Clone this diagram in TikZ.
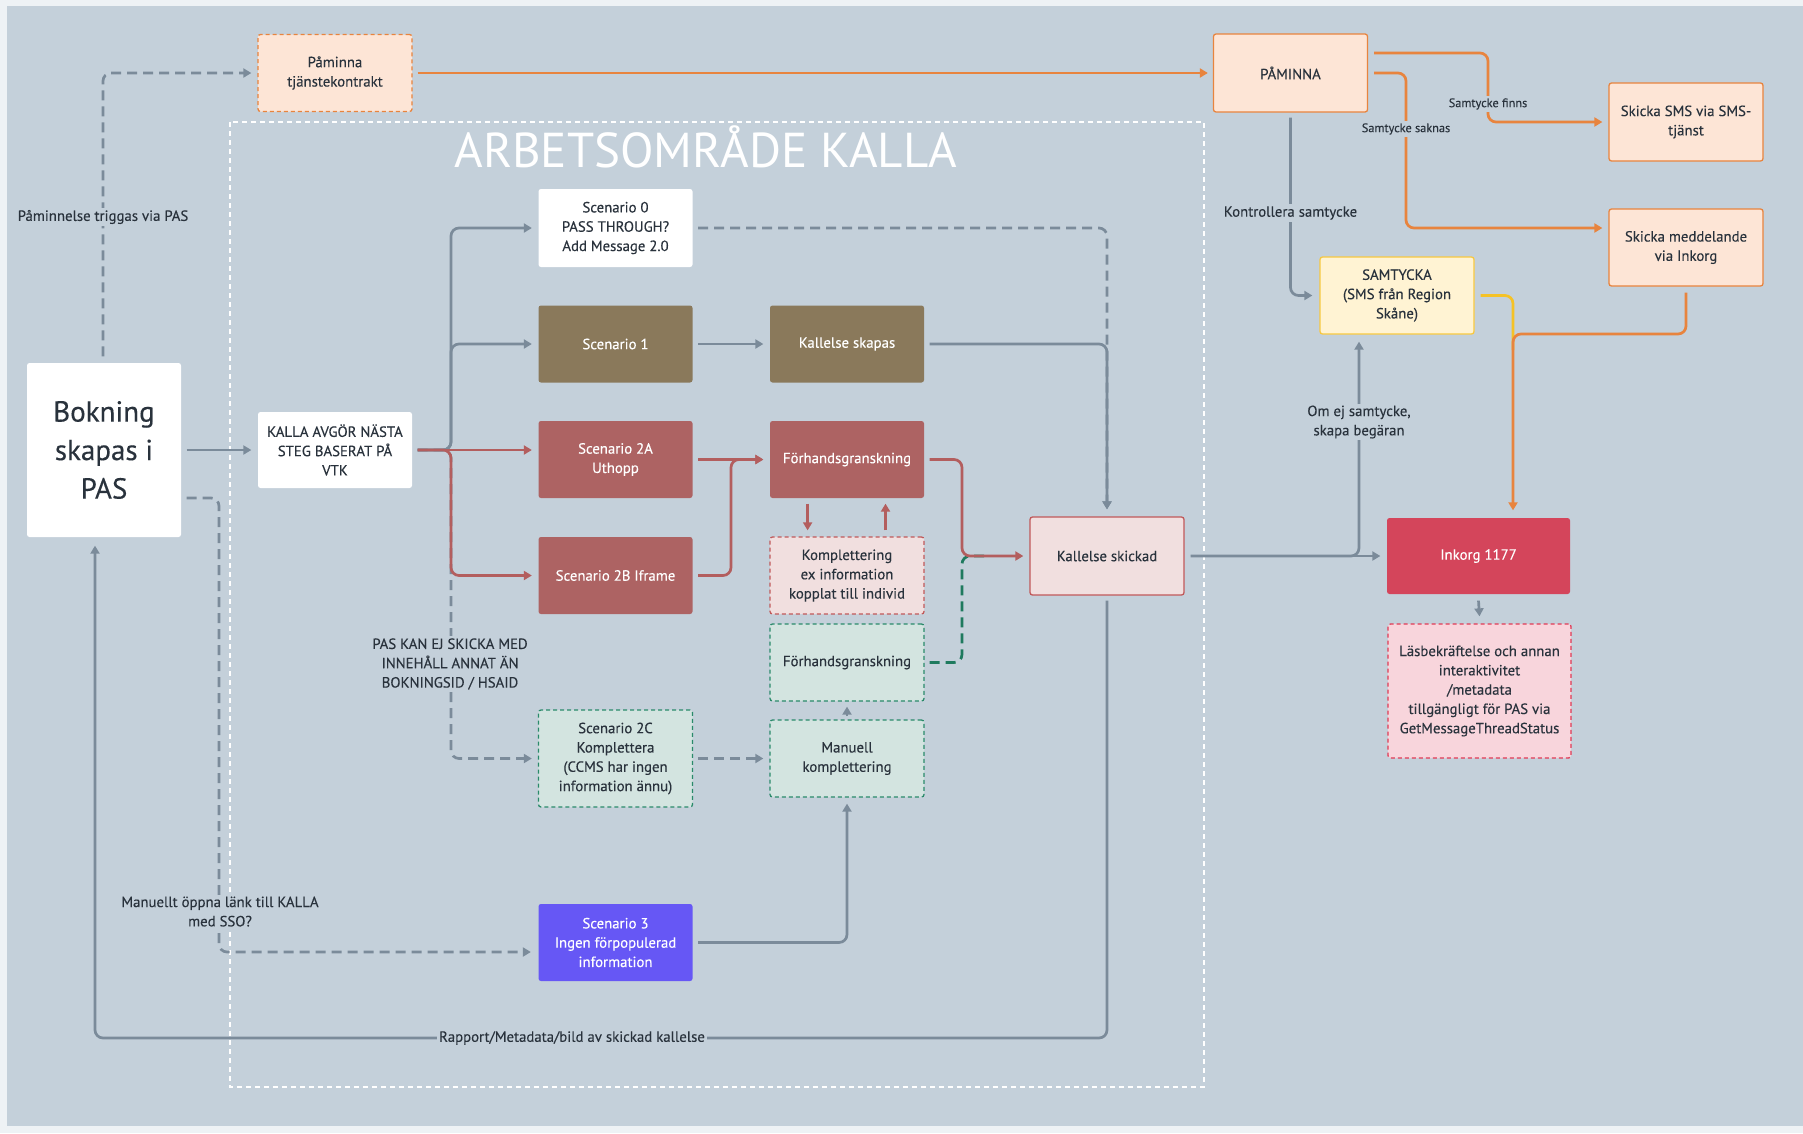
\documentclass[tikz,border=0pt]{standalone}
\usepackage{fontspec}
\setmainfont{PT Sans}[FakeBold=0.25]
\newfontfamily\titfam{PT Sans}
\usetikzlibrary{arrows.meta}
\definecolor{outerbg}{HTML}{EEF2F5}
\definecolor{panel}{HTML}{C4D0DA}
\definecolor{txt}{HTML}{29323C}
\definecolor{grayc}{HTML}{7B8B9A}
\definecolor{orangec}{HTML}{E8843E}
\definecolor{peachf}{HTML}{FDE5D6}
\definecolor{brownc}{HTML}{8A795B}
\definecolor{redc}{HTML}{AD6363}
\definecolor{redl}{HTML}{B35E5E}
\definecolor{kskf}{HTML}{F1DFDF}
\definecolor{kskd}{HTML}{C0595A}
\definecolor{greenf}{HTML}{D3E4E0}
\definecolor{greend}{HTML}{2A8A6A}
\definecolor{greenl}{HTML}{1F7A5E}
\definecolor{purplec}{HTML}{6657F5}
\definecolor{yelf}{HTML}{FFF3D3}
\definecolor{yeld}{HTML}{F7C841}
\definecolor{yell}{HTML}{F5C226}
\definecolor{inkc}{HTML}{D4455B}
\definecolor{lasf}{HTML}{F8D5DC}
\definecolor{lasd}{HTML}{E03A55}
\newcommand\bxf{\fontsize{14.8}{19.3}\selectfont}
\newcommand\smf{\fontsize{12.3}{16}\selectfont}
\newcommand\bigf{\fontsize{29}{38.5}\selectfont}
\newcommand\titf{\titfam\fontsize{49}{52}\selectfont}
\begin{document}
\begin{tikzpicture}[x=1pt,y=-1pt,
  bx/.style={rectangle, rounded corners=2.5pt, minimum width=154pt, minimum height=77pt, align=center, inner sep=1pt, font=\bxf, text=txt, line width=1.3pt},
  wbox/.style={bx, fill=white},
  brownbox/.style={bx, fill=brownc, text=white},
  redbox/.style={bx, fill=redc, text=white},
  peach/.style={bx, fill=peachf, draw=orangec},
  bdash/.style={dash pattern=on 4pt off 3pt},
  kompbox/.style={bx, fill=kskf, draw=kskd, bdash},
  greenbox/.style={bx, fill=greenf, draw=greend, bdash},
  purplebox/.style={bx, fill=purplec, text=white},
  kskbox/.style={bx, fill=kskf, draw=kskd},
  yelbox/.style={bx, fill=yelf, draw=yeld},
  lasbox/.style={bx, fill=lasf, draw=lasd, bdash, minimum width=183pt, minimum height=134pt},
  gline/.style={draw=grayc, line width=2.7pt, rounded corners=8pt},
  gdash/.style={gline, dash pattern=on 10pt off 6pt},
  oline/.style={draw=orangec, line width=2.7pt, rounded corners=8pt},
  rline/.style={draw=redl, line width=2.7pt, rounded corners=8pt},
  yline/.style={draw=yell, line width=2.7pt, rounded corners=8pt},
  gnline/.style={draw=greenl, line width=2.7pt, rounded corners=8pt, dash pattern=on 10pt off 6pt},
  tip/.style={-{Triangle[length=8pt,width=9pt]}},
  lbl/.style={fill=panel, inner sep=2pt, text=txt, font=\bxf, align=center},
  slbl/.style={lbl, font=\smf}
]
\useasboundingbox (0,0) rectangle (1803,1133);
\fill[outerbg] (0,0) rectangle (1803,1133);
\fill[panel] (7,6) rectangle (1803,1126);
% workspace
\draw[white, line width=1.3pt, dash pattern=on 5pt off 4pt] (230,122) rectangle (1204,1087);
\node[anchor=base west, font=\titf, text=white] (title) at (451,167.5) {ARBETSOMRÅDE KALLA};

% nodes
\node[wbox, minimum height=174pt, font=\bigf] (bok) at (104,450) {Bokning\\skapas i\\PAS};
\node[peach, bdash] (pamtj) at (335,73) {Påminna\\tjänstekontrakt};
\node[wbox, minimum height=76pt] (kalla) at (335,450) {KALLA AVGÖR NÄSTA\\STEG BASERAT PÅ\\VTK};
\node[wbox, minimum height=78pt] (s0) at (615.5,228) {Scenario 0\\PASS THROUGH?\\Add Message 2.0};
\node[brownbox] (s1) at (615.5,344) {Scenario 1};
\node[brownbox] (kskap) at (847,344) {Kallelse skapas};
\node[redbox] (s2a) at (615.5,459.5) {Scenario 2A\\Uthopp};
\node[redbox] (forh) at (847,459.5) {Förhandsgranskning};
\node[redbox] (s2b) at (615.5,575.5) {Scenario 2B Iframe};
\node[kompbox] (kompl) at (847,575.5) {Komplettering\\ex information\\kopplat till individ};
\node[greenbox] (forh2) at (847,662.5) {Förhandsgranskning};
\node[greenbox] (man) at (847,758.5) {Manuell\\komplettering};
\node[greenbox, minimum height=97pt] (s2c) at (615.5,758.5) {Scenario 2C\\Komplettera\\(CCMS har ingen\\information ännu)};
\node[purplebox] (s3) at (615.5,942.5) {Scenario 3\\Ingen förpopulerad\\information};
\node[kskbox, minimum height=78pt] (ksk) at (1107,556) {Kallelse skickad};
\node[peach, minimum height=78pt] (pam) at (1290.5,73) {PÅMINNA};
\node[peach, minimum height=78pt] (sms) at (1686,122) {Skicka SMS via SMS-\\tjänst};
\node[peach] (medd) at (1686,247.5) {Skicka meddelande\\via Inkorg};
\node[yelbox] (samt) at (1397,295.5) {SAMTYCKA\\(SMS från Region\\Skåne)};
\node[bx, fill=inkc, text=white, minimum width=183pt, minimum height=76pt] (ink) at (1478.5,556) {Inkorg 1177};
\node[lasbox] (lasb) at (1479.5,691) {Läsbekräftelse och annan\\interaktivitet\\/metadata\\tillgängligt för PAS via\\GetMessageThreadStatus};

% connectors: left side
\draw[gdash,tip] ([xshift=-1pt,yshift=6pt]bok.north) -- (103,73) -- ([xshift=-6pt]pamtj.west);
\node[lbl] (l1) at (103,217) {Påminnelse triggas via PAS};
\draw[gline,tip] ([xshift=5pt]bok.east) -- ([xshift=-6pt]kalla.west);
\draw[gdash,tip] ([xshift=5pt,yshift=-48pt]bok.east) -- (219,498) -- (219,952) -- ([xshift=-7pt,yshift=-9.5pt]s3.west);
\node[lbl] (l2) at (220,911.5) {Manuellt öppna länk till KALLA\\med SSO?};
\draw[gline,tip] ([yshift=-5pt]ksk.south) -- (1107,1038) -- (95,1038) -- ([xshift=-9pt,yshift=-8pt]bok.south);
\node[lbl] (l3) at (572,1038) {Rapport/Metadata/bild av skickad kallelse};

% from KALLA
\draw[gdash,tip] ([xshift=5pt]kalla.east) -- (451,450) -- (451,758.5) -- ([xshift=-6pt]s2c.west);
\node[lbl] (l4) at (450,664) {PAS KAN EJ SKICKA MED\\INNEHÅLL ANNAT ÄN\\BOKNINGSID / HSAID};
\draw[gline,tip] ([xshift=5pt]kalla.east) -- (451,450) -- (451,228) -- ([xshift=-6pt]s0.west);
\draw[gline,tip] ([xshift=5pt]kalla.east) -- (451,450) -- (451,344) -- ([xshift=-6pt]s1.west);
\draw[rline,tip] ([xshift=5pt]kalla.east) -- ([xshift=-6pt,yshift=9.5pt]s2a.west);
\draw[rline,tip] ([xshift=5pt]kalla.east) -- (451,450) -- (451,575.5) -- ([xshift=-6pt]s2b.west);

% middle
\draw[gline,tip] ([xshift=5pt]s1.east) -- ([xshift=-6pt]kskap.west);
\draw[gdash,tip] ([xshift=5pt]s0.east) -- (1107,228) -- ([yshift=7pt]ksk.north);
\draw[gline,tip] ([xshift=5pt]kskap.east) -- (1107,344) -- ([yshift=7pt]ksk.north);
\draw[rline,tip] ([xshift=5pt]s2a.east) -- ([xshift=-6pt]forh.west);
\draw[rline,tip] ([xshift=5pt]s2b.east) -- (731,575.5) -- (731,459.5) -- ([xshift=-6pt]forh.west);
\draw[rline,tip] ([xshift=-39.4pt,yshift=-5pt]forh.south) -- ([xshift=-39.4pt,yshift=6pt]kompl.north);
\draw[rline,tip] ([xshift=38.5pt,yshift=6pt]kompl.north) -- ([xshift=38.5pt,yshift=-5pt]forh.south);
\draw[gnline] ([xshift=5pt]forh2.east) -- (962,662.5) -- (962,556) -- (990,556);
\draw[rline,tip] ([xshift=5pt]forh.east) -- (962,459.5) -- (962,556) -- ([xshift=-6pt]ksk.west);
\draw[gline,tip] ([yshift=3pt]man.north) -- ([yshift=-5pt]forh2.south);
\draw[gdash,tip] ([xshift=5pt]s2c.east) -- ([xshift=-6pt]man.west);
\draw[gline,tip] ([xshift=5pt]s3.east) -- (847,942.5) -- ([yshift=-6pt]man.south);

% right side
\draw[oline,tip] ([xshift=5pt]pamtj.east) -- ([xshift=-5pt]pam.west);
\draw[gline,tip] ([xshift=6pt]ksk.east) -- ([xshift=-6pt]ink.west);
\draw[gline,tip] ([xshift=6pt]ksk.east) -- (1359,556) -- ([xshift=-38pt,yshift=-7pt]samt.south);
\node[lbl] (l5) at (1359,422) {Om ej samtycke,\\skapa begäran};
\draw[gline,tip] ([yshift=-5pt]pam.south) -- (1290.5,295.5) -- ([xshift=-7pt]samt.west);
\node[lbl] (l6) at (1290.5,213) {Kontrollera samtycke};
\draw[oline,tip] ([xshift=6pt,yshift=20pt]pam.east) -- (1488,53) -- (1488,122) -- ([xshift=-6pt]sms.west);
\node[slbl] (l7) at (1488,104) {Samtycke finns};
\draw[oline,tip] ([xshift=6pt]pam.east) -- (1406,73) -- (1406,228) -- ([xshift=-6pt,yshift=19.5pt]medd.west);
\node[slbl] (l8) at (1406,129) {Samtycke saknas};
\draw[yline] ([xshift=6pt]samt.east) -- (1513,295.5) -- (1513,350);
\draw[oline,tip] ([yshift=-6pt]medd.south) -- (1686,334) -- (1513,334) -- ([xshift=34.5pt,yshift=7pt]ink.north);
\draw[gline,tip] ([yshift=-6pt]ink.south) -- ([yshift=7pt]lasb.north);
\end{tikzpicture}
\end{document}
